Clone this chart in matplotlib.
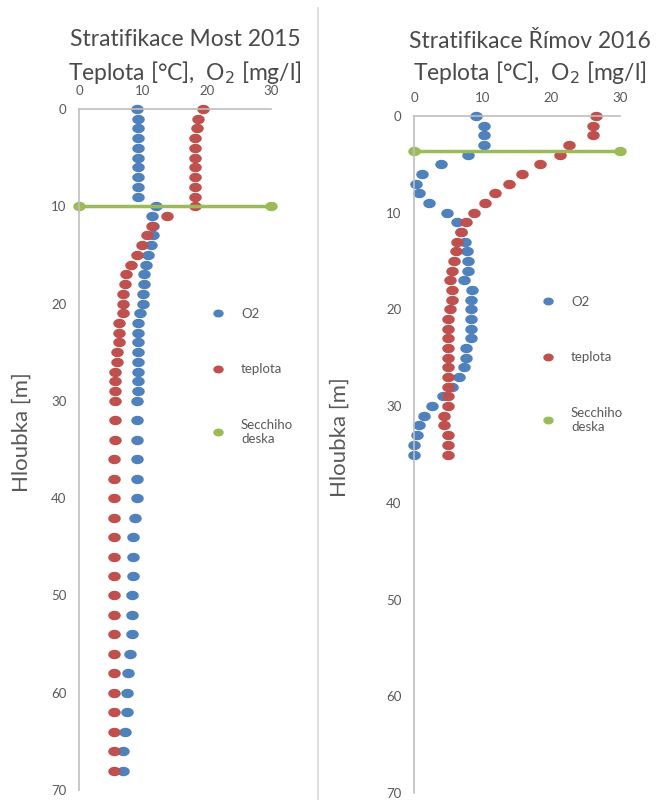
import numpy as np
import matplotlib
matplotlib.use("Agg")
import matplotlib.pyplot as plt
from matplotlib.path import Path
from matplotlib.lines import Line2D

plt.rcParams['font.family'] = ['Lato', 'DejaVu Sans']

# ---------------- data ----------------
most_depth = list(range(0, 31)) + list(range(32, 70, 2))
most_o2 = [9.0] + [9.2] * 9 + [12.0, 11.4, 11.5, 11.5, 11.2, 10.8, 10.4, 10.2, 10.2, 10.0, 10.0, 9.5] \
    + [9.2] * 8 + [9.1] \
    + [9.1, 9.1, 9.1, 9.1, 9.1, 8.75, 8.5, 8.5, 8.5, 8.3, 8.3, 8.3, 8.0, 7.7, 7.5, 7.5, 7.2, 6.9, 6.9]
most_temp = [19.4, 18.6, 18.4] + [18.1] * 8 + [13.8, 11.4, 10.6, 9.8, 9.1, 8.1, 7.3, 7.2, 6.9, 6.9, 6.9,
                                               6.3, 6.3, 6.3, 5.9, 5.9, 5.6, 5.7, 5.7, 5.7] \
    + [5.7, 5.7] + [5.4] * 17
most_secchi = 10.0

rimov_depth = list(range(0, 36))
rimov_o2 = [9.1, 10.2, 10.2, 10.2, 7.8, 4.0, 1.1, 0.3, 0.7, 2.2, 4.8, 6.3, 6.9, 7.4, 7.7, 7.8, 7.8, 7.3,
            8.4, 8.3, 8.3, 8.3, 8.3, 8.3, 7.6, 7.6, 7.3, 6.5, 5.5, 4.2, 2.6, 1.5, 0.7, 0.4, 0.05, 0.05]
rimov_temp = [26.5, 26.1, 26.1, 22.6, 21.2, 18.4, 15.8, 13.9, 11.8, 10.3, 8.8, 7.6, 6.8, 6.3, 6.1, 5.8,
              5.6, 5.2, 5.5, 5.6, 5.3, 5.0, 5.0, 5.0, 5.0, 5.0, 5.0, 5.0, 5.0, 5.0, 5.0, 4.3, 4.3,
              5.0, 5.0, 5.0]
rimov_secchi = 3.6

secchi_x = [0, 30]
x_ticks = [0, 10, 20, 30]
y_ticks = [0, 10, 20, 30, 40, 50, 60, 70]
series_labels = ["O2", "teplota", "Secchiho\ndeska"]
titles = ["Stratifikace Most 2015", "Stratifikace Římov 2016"]
subtitle = "Teplota [°C],  O$_2$ [mg/l]"
ylabel = "Hloubka [m]"

# ---------------- style ----------------
C_BLUE = "#4F81BD"
C_RED = "#C0504D"
C_GREEN = "#9BBB59"
C_TXT = "#595959"
C_TITLE = "#4A4A4A"
C_AX = "#BFBFBF"

t = np.linspace(0, 2 * np.pi, 40)
ell = Path(np.column_stack([np.cos(t), 0.72 * np.sin(t)]), closed=True)

W, H = 657, 800
fig = plt.figure(figsize=(W / 100, H / 100), dpi=100)


def px_ax(x0, x1, ytop, ybot):
    return fig.add_axes([x0 / W, 1 - ybot / H, (x1 - x0) / W, (ybot - ytop) / H])


def setup(ax):
    ax.set_xlim(0, 30)
    ax.set_ylim(70, 0)
    ax.set_xticks(x_ticks)
    ax.set_yticks(y_ticks)
    ax.xaxis.tick_top()
    for s in ["right", "bottom"]:
        ax.spines[s].set_visible(False)
    for s in ["top", "left"]:
        ax.spines[s].set_color(C_AX)
        ax.spines[s].set_linewidth(1.2)
    ax.tick_params(length=0, labelsize=9.5, labelcolor=C_TXT, pad=9)
    ax.patch.set_alpha(0)


def draw(ax, depth, o2, temp, secchi):
    ax.plot(o2, depth, ls="none", marker=ell, ms=8, color=C_BLUE, clip_on=False)
    ax.plot(temp, depth, ls="none", marker=ell, ms=8, color=C_RED, clip_on=False)
    ax.plot(secchi_x, [secchi, secchi], color=C_GREEN, lw=2.5, marker=ell, ms=8,
            clip_on=False)


axL = px_ax(79, 271, 109, 790)
setup(axL)
draw(axL, most_depth, most_o2, most_temp, most_secchi)

axR = px_ax(414, 620, 116, 793)
setup(axR)
draw(axR, rimov_depth, rimov_o2, rimov_temp, rimov_secchi)

# titles
for cx, y1, y2, ttl in [(185, 40, 72, titles[0]), (530, 42, 72, titles[1])]:
    fig.text(cx / W, 1 - y1 / H, ttl, ha="center", va="center", fontsize=16.5, color=C_TITLE)
    fig.text(cx / W, 1 - y2 / H, subtitle, ha="center", va="center", fontsize=16.5, color=C_TITLE)

fig.text(22 / W, 1 - 432 / H, ylabel, rotation=90, ha="center", va="center", fontsize=16, color=C_TXT)
fig.text(340 / W, 1 - 437 / H, ylabel, rotation=90, ha="center", va="center", fontsize=16, color=C_TXT)

# legends
handles = [Line2D([], [], ls="none", marker=ell, ms=6.5, color=c) for c in (C_BLUE, C_RED, C_GREEN)]
for lx, ly in [(200, 296), (530, 284)]:
    fig.legend(handles, series_labels, loc="upper left", bbox_to_anchor=(lx / W, 1 - ly / H),
               frameon=False, fontsize=9.5, labelcolor=C_TXT, labelspacing=3.3,
               handlelength=1.0, handletextpad=1.2)

# separator
fig.add_artist(Line2D([318 / W, 318 / W], [0, 1 - 8 / H], color="#D9D9D9", lw=1.2))

fig.savefig("out.png", dpi=100)
